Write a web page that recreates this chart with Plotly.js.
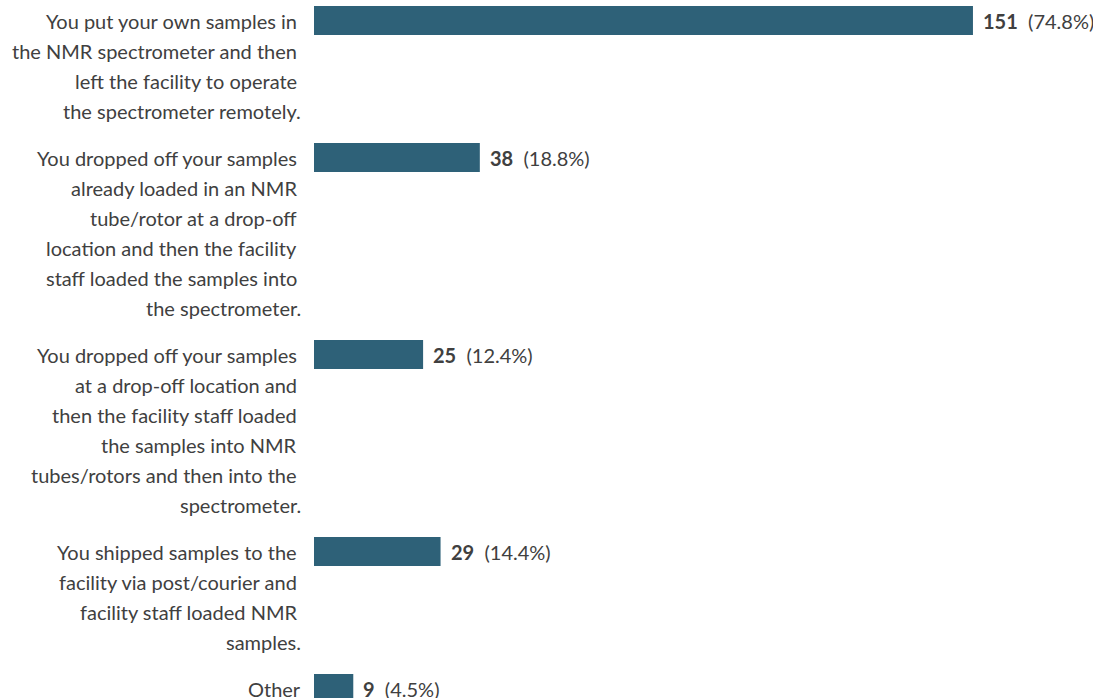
<!DOCTYPE html>
<html>
<head>
<meta charset="utf-8">
<script src="https://cdn.plot.ly/plotly-3.0.1.min.js"></script>
<style>
  html, body { margin: 0; padding: 0; background: #ffffff; }
  #chart { width: 1093px; height: 698px; }
</style>
</head>
<body>
<div id="chart"></div>
<script>
// Survey answers: how samples reached the NMR spectrometer
const categories = [
  "You put your own samples in|the NMR spectrometer and then|left the facility to operate|the spectrometer remotely.",
  "You dropped off your samples|already loaded in an NMR|tube/rotor at a drop-off|location and then the facility|staff loaded the samples into|the spectrometer.",
  "You dropped off your samples|at a drop-off location and|then the facility staff loaded|the samples into NMR|tubes/rotors and then into the|spectrometer.",
  "You shipped samples to the|facility via post/courier and|facility staff loaded NMR|samples.",
  "Other"
];
const counts = [151, 38, 25, 29, 9];
const percents = ["74.8%", "18.8%", "12.4%", "14.4%", "4.5%"];

// Layout constants (pixels)
const W = 1093, H = 698;
const LEFT = 314;          // where bars start
const LINE = 30;           // label line pitch
const GAP = 17;            // extra space between answer blocks
const FIRST = 20.5;        // centre of first bar
const BAR_H = 29;
const PX_PER_UNIT = 4.364;

const TEXT = "#404040";
const BAR = "#2e6178";
const FONT = "Lato, 'Open Sans', sans-serif";
const SIZE = 20;

// y centre of each answer block, stacked by its number of label lines
const lines = categories.map(c => c.split("|"));
const centers = [];
let y = FIRST;
lines.forEach(ls => { centers.push(y); y += ls.length * LINE + GAP; });

const trace = {
  type: "bar",
  orientation: "h",
  x: counts,
  y: centers,
  width: BAR_H,
  marker: { color: BAR },
  hoverinfo: "skip"
};

const annotations = [];
lines.forEach((ls, i) => {
  ls.forEach((t, k) => {
    const last = k === ls.length - 1;
    annotations.push({
      xref: "paper", yref: "y",
      x: 0, y: centers[i] + k * LINE,
      xanchor: "right", yanchor: "middle",
      xshift: last ? -11 : -15,
      text: t, showarrow: false, align: "right",
      font: { family: FONT, size: SIZE, color: TEXT }
    });
  });
  annotations.push({
    xref: "x", yref: "y",
    x: counts[i], y: centers[i],
    xanchor: "left", yanchor: "middle",
    xshift: 8,
    text: "<b>" + counts[i] + "</b>&nbsp;&nbsp;(" + percents[i] + ")",
    showarrow: false,
    font: { family: FONT, size: SIZE, color: TEXT }
  });
});

const layout = {
  width: W, height: H,
  margin: { l: LEFT, r: 0, t: 0, b: 0, pad: 0 },
  paper_bgcolor: "#ffffff",
  plot_bgcolor: "#ffffff",
  showlegend: false,
  xaxis: {
    range: [0, (W - LEFT) / PX_PER_UNIT],
    showgrid: false, zeroline: false, showticklabels: false, showline: false, ticks: ""
  },
  yaxis: {
    range: [H, 0],
    showgrid: false, zeroline: false, showticklabels: false, showline: false, ticks: ""
  },
  annotations: annotations
};

Plotly.newPlot("chart", [trace], layout, { displayModeBar: false, staticPlot: true });
</script>
</body>
</html>
